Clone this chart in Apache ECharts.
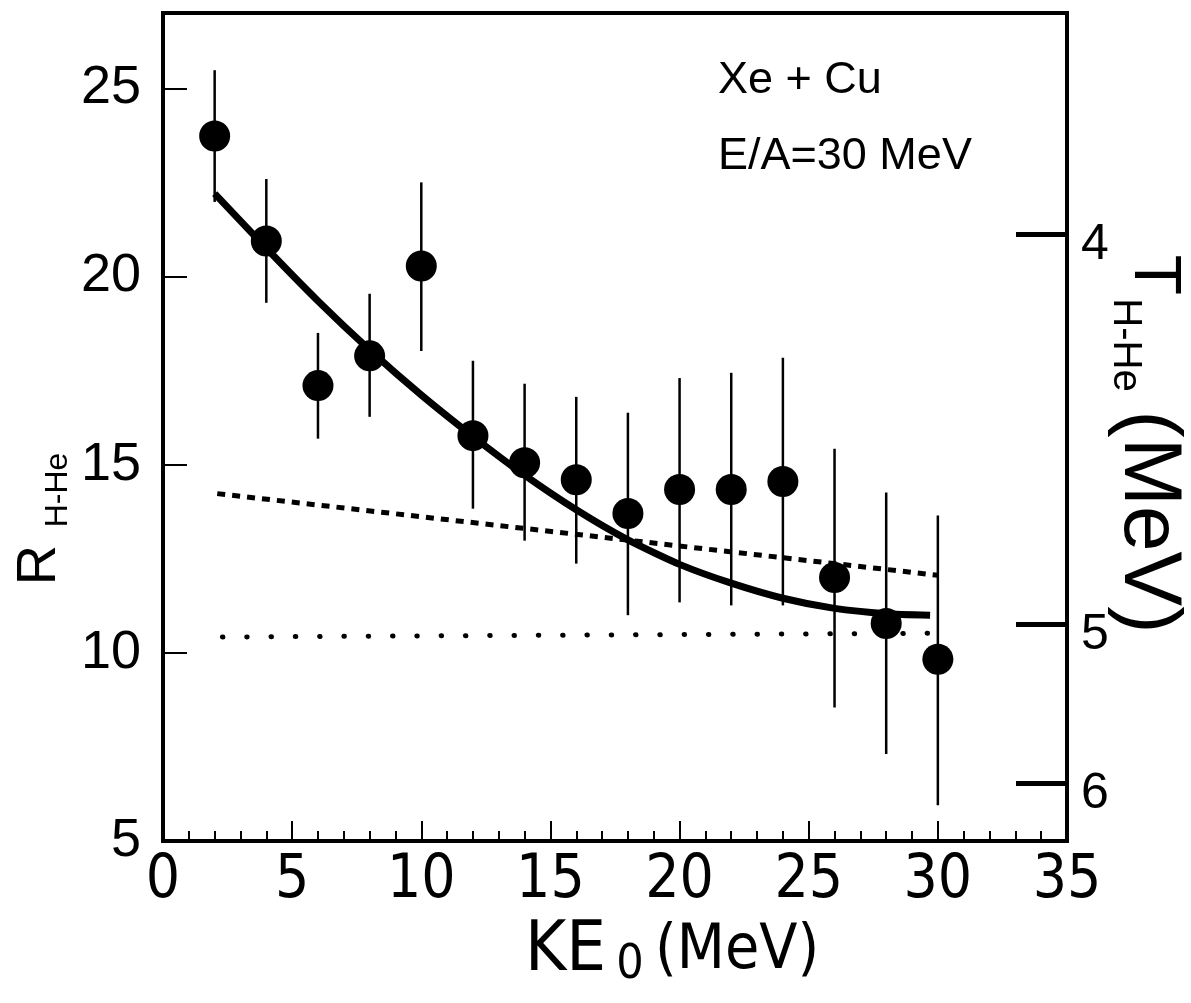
<!DOCTYPE html>
<html><head><meta charset="utf-8">
<script src="https://cdn.jsdelivr.net/npm/echarts@6/dist/echarts.min.js"></script>
<style>html,body{margin:0;padding:0;background:#fff}#c{width:1191px;height:1003px}</style>
</head><body><div id="c"></div>
<script>
// Data
const keValues   = [2, 4, 6, 8, 10, 12, 14, 16, 18, 20, 22, 24, 26, 28, 30];
const rValues    = [23.73, 20.94, 17.10, 17.89, 20.28, 15.77, 15.05, 14.60, 13.70, 14.34, 14.34, 14.55, 12.00, 10.78, 9.83];
const rErrHigh   = [25.48, 22.59, 18.50, 19.54, 22.50, 17.76, 17.15, 16.80, 16.38, 17.30, 17.44, 17.84, 15.42, 14.26, 13.65];
const rErrLow    = [21.98, 19.30, 15.69, 16.27, 18.02, 13.83, 12.98, 12.37, 11.00, 11.34, 11.26, 11.26, 8.55, 7.31, 5.95];
const fitX       = [2, 4, 6, 8, 10, 12, 14, 16, 18, 20, 22, 24, 26, 28, 29.7];
const fitY       = [22.2, 20.75, 19.35, 18.05, 16.85, 15.75, 14.72, 13.8, 13.0, 12.35, 11.85, 11.45, 11.18, 11.04, 11.0];
const dashedX    = [2.1, 30];
const dashedY    = [14.23, 12.06];
const dottedX    = [2.3, 29.8];
const dottedY    = [10.42, 10.52];
const xTicks     = [0, 5, 10, 15, 20, 25, 30, 35];
const rTicks     = [5, 10, 15, 20, 25];
const tTickLabels = ['4', '5', '6'];
const tTickR      = [21.13, 10.76, 6.54];

const FONT = '"Liberation Sans", Arial, sans-serif';
const NARROW = '"Liberation Sans Narrow", "DejaVu Sans Condensed", "Liberation Sans", sans-serif';

const chart = echarts.init(document.getElementById('c'), null, {renderer: 'canvas'});

const pts = keValues.map((x, i) => [x, rValues[i]]);
const errs = keValues.map((x, i) => [x, rErrLow[i], rErrHigh[i]]);
const fit = fitX.map((x, i) => [x, fitY[i]]);
const dashed = dashedX.map((x, i) => [x, dashedY[i]]);
const dotted = dottedX.map((x, i) => [x, dottedY[i]]);

function txt(text, x, y, size, rot, family, align) {
  return {
    type: 'text', x: x, y: y, rotation: rot || 0, silent: true,
    style: {
      text: text, fill: '#000', fontSize: size, fontFamily: family || FONT,
      textAlign: align || 'center', textVerticalAlign: 'middle',
      align: align || 'center', verticalAlign: 'middle'
    }
  };
}

const option = {
  backgroundColor: '#fff',
  animation: false,
  grid: {
    left: 163, right: 124, top: 13, bottom: 162,
    show: true, borderColor: '#000', borderWidth: 4,
    containLabel: false, outerBoundsMode: 'none'
  },
  xAxis: {
    type: 'value', min: 0, max: 35, interval: 5,
    axisLine: {show: true, lineStyle: {color: '#000', width: 4}},
    axisTick: {show: true, inside: true, length: 20, lineStyle: {color: '#000', width: 2}},
    minorTick: {show: true, splitNumber: 5, length: 10, lineStyle: {color: '#000', width: 2}},
    splitLine: {show: false},
    axisLabel: {
      customValues: xTicks,
      margin: 10, color: '#000', fontSize: 60, fontFamily: NARROW
    }
  },
  yAxis: [
    {
      type: 'value', min: 5, max: 27, position: 'left',
      axisLine: {show: true, lineStyle: {color: '#000', width: 4}},
      axisTick: {show: true, inside: true, length: 24, customValues: rTicks, lineStyle: {color: '#000', width: 2}},
      splitLine: {show: false},
      axisLabel: {customValues: rTicks, margin: 22, color: '#000', fontSize: 54, fontFamily: FONT}
    },
    {
      type: 'value', min: 5, max: 27, position: 'right',
      axisLine: {show: true, lineStyle: {color: '#000', width: 4}},
      axisTick: {show: true, inside: true, length: 51, customValues: tTickR, lineStyle: {color: '#000', width: 5}},
      splitLine: {show: false},
      axisLabel: {
        customValues: tTickR, margin: 14, color: '#000', fontSize: 50, fontFamily: FONT,
        formatter: function (v) {
          let best = 0;
          for (let i = 0; i < tTickR.length; i++) if (Math.abs(tTickR[i] - v) < Math.abs(tTickR[best] - v)) best = i;
          return '{t|' + tTickLabels[best] + '}';
        },
        rich: {t: {fontSize: 50, fontFamily: FONT, color: '#000', padding: [22, 0, 0, 0]}}
      }
    }
  ],
  series: [
    {
      type: 'custom', name: 'err', z: 2,
      data: errs,
      encode: {x: 0, y: [1, 2]},
      renderItem: function (params, api) {
        const x = api.value(0), lo = api.value(1), hi = api.value(2);
        const a = api.coord([x, lo]), b = api.coord([x, hi]);
        return {type: 'line', shape: {x1: a[0], y1: a[1], x2: b[0], y2: b[1]},
                style: {stroke: '#000', lineWidth: 2.5}};
      }
    },
    {
      type: 'line', name: 'fit', data: fit, showSymbol: false, symbol: 'none', smooth: 0.2, z: 3,
      lineStyle: {color: '#000', width: 7}
    },
    {
      type: 'line', name: 'dashed', data: dashed, showSymbol: false, symbol: 'none', z: 3,
      lineStyle: {color: '#000', width: 5, type: [8, 7]}
    },
    {
      type: 'line', name: 'dotted', data: dotted, showSymbol: false, symbol: 'none', z: 3,
      lineStyle: {color: '#000', width: 5, type: [0.5, 23.8], cap: 'round'}
    },
    {
      type: 'scatter', name: 'data', data: pts, symbol: 'circle', symbolSize: 31, z: 4,
      itemStyle: {color: '#000', opacity: 1}
    }
  ],
  graphic: [
    txt('Xe + Cu', 718, 81, 45, 0, FONT, 'left'),
    txt('E/A=30 MeV', 718, 157, 45, 0, FONT, 'left'),
    // left axis title
    txt('R', 40, 565, 56, Math.PI / 2),
    txt('H-He', 58, 490, 32, Math.PI / 2),
    // right axis title
    txt('T', 1153, 275, 66, -Math.PI / 2),
    txt('H-He', 1125, 345, 40, -Math.PI / 2),
    txt('(MeV)', 1148, 522, 82, -Math.PI / 2),
    // bottom title
    txt('KE', 525, 952, 70, 0, NARROW, 'left'),
    txt('0', 630, 966, 48, 0, NARROW),
    txt('(MeV)', 655, 952, 62, 0, NARROW, 'left')
  ]
};
chart.setOption(option);
</script>
</body></html>
